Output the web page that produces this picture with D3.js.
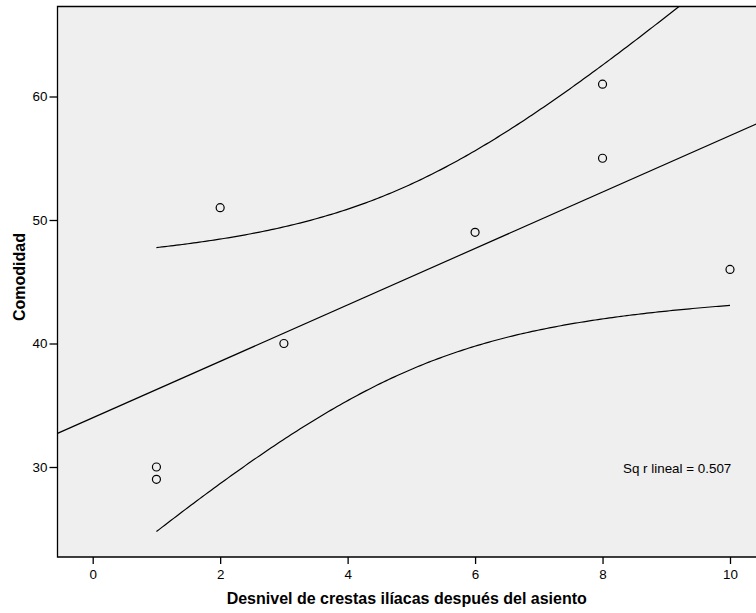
<!DOCTYPE html>
<html>
<head>
<meta charset="utf-8">
<script src="https://cdn.jsdelivr.net/npm/d3@7/dist/d3.min.js"></script>
<style>
  html, body { margin: 0; padding: 0; background: #ffffff; }
  svg { display: block; }
  text { font-family: "Liberation Sans", Arial, sans-serif; fill: #000; }
</style>
</head>
<body>
<svg id="chart" width="756" height="613"></svg>
<script>
// Observations: pelvic crest drop after sitting vs. comfort score
const desnivel = [1, 1, 2, 3, 6, 8, 8, 10];
const comodidad = [30, 29, 51, 40, 49, 61, 55, 46];
const xTicks = [0, 2, 4, 6, 8, 10];
const yTicks = [30, 40, 50, 60];
const xTitle = "Desnivel de crestas ilíacas después del asiento";
const yTitle = "Comodidad";

const W = 756, H = 613;
const plot = { left: 57.5, top: 6.5, right: 760, bottom: 557 };

const x = d3.scaleLinear().domain([0, 10]).range([92.7, 730]);
const y = d3.scaleLinear().domain([30, 60]).range([467, 96.5]);

const svg = d3.select("#chart");

svg.append("defs").append("clipPath").attr("id", "plotclip")
  .append("rect")
  .attr("x", plot.left).attr("y", plot.top)
  .attr("width", plot.right - plot.left).attr("height", plot.bottom - plot.top);

// plot background
svg.append("rect")
  .attr("x", plot.left).attr("y", plot.top)
  .attr("width", plot.right - plot.left).attr("height", plot.bottom - plot.top)
  .attr("fill", "#efefef");

// least-squares fit and 95% confidence band for the mean
const n = desnivel.length;
const mx = d3.mean(desnivel), my = d3.mean(comodidad);
let sxx = 0, sxy = 0, syy = 0;
for (let i = 0; i < n; i++) {
  sxx += (desnivel[i] - mx) ** 2;
  sxy += (desnivel[i] - mx) * (comodidad[i] - my);
  syy += (comodidad[i] - my) ** 2;
}
const slope = sxy / sxx;
const intercept = my - slope * mx;
const r2 = (sxy * sxy) / (sxx * syy);
const sse = syy - slope * sxy;
const s = Math.sqrt(sse / (n - 2));
const tCrit = 2.4469; // t(0.975, df = 6)
const fit = v => intercept + slope * v;
const half = v => tCrit * s * Math.sqrt(1 / n + (v - mx) ** 2 / sxx);

const g = svg.append("g").attr("clip-path", "url(#plotclip)");

const xMinData = d3.min(desnivel), xMaxData = d3.max(desnivel);
const bandX = d3.range(0, 201).map(i => xMinData + (xMaxData - xMinData) * i / 200);
const line = d3.line().x(d => x(d[0])).y(d => y(d[1]));

const xDom = [x.invert(plot.left), x.invert(plot.right)];
g.append("path")
  .attr("d", line(xDom.map(v => [v, fit(v)])))
  .attr("fill", "none").attr("stroke", "#000").attr("stroke-width", 1.2);

g.append("path")
  .attr("d", line(bandX.map(v => [v, fit(v) + half(v)])))
  .attr("fill", "none").attr("stroke", "#000").attr("stroke-width", 1.2);
g.append("path")
  .attr("d", line(bandX.map(v => [v, fit(v) - half(v)])))
  .attr("fill", "none").attr("stroke", "#000").attr("stroke-width", 1.2);

// data points
g.selectAll("circle.pt").data(desnivel.map((d, i) => [d, comodidad[i]]))
  .enter().append("circle")
  .attr("class", "pt")
  .attr("cx", d => x(d[0])).attr("cy", d => y(d[1]))
  .attr("r", 4)
  .attr("fill", "none").attr("stroke", "#000").attr("stroke-width", 1.2);

// R² annotation
svg.append("text")
  .attr("x", 623).attr("y", 473)
  .style("font-size", "13.4px")
  .text("Sq r lineal = " + r2.toFixed(3));

// frame (left, top, bottom)
svg.append("path")
  .attr("d", `M${W + 2},${plot.top}H${plot.left}V${plot.bottom}H${W + 2}`)
  .attr("fill", "none").attr("stroke", "#000").attr("stroke-width", 1.3);

// axes
const xAxis = d3.axisBottom(x).tickValues(xTicks).tickSize(7).tickPadding(5).tickFormat(d3.format("d"));
const yAxis = d3.axisLeft(y).tickValues(yTicks).tickSize(8).tickPadding(2).tickFormat(d3.format("d"));

const gx = svg.append("g").attr("transform", `translate(0,${plot.bottom})`).call(xAxis);
const gy = svg.append("g").attr("transform", `translate(${plot.left},0)`).call(yAxis);
[gx, gy].forEach(a => {
  a.attr("font-size", null).attr("font-family", null);
  a.select(".domain").remove();
  a.selectAll(".tick line").attr("stroke", "#000").attr("stroke-width", 1.3);
  a.selectAll(".tick text")
    .style("font-size", "13.4px")
    .style("font-family", "'Liberation Sans', Arial, sans-serif")
    .attr("fill", "#000");
});

// axis titles
svg.append("text")
  .attr("x", (plot.left + W) / 2).attr("y", 604)
  .attr("text-anchor", "middle")
  .style("font-size", "16px").attr("font-weight", "bold")
  .text(xTitle);

svg.append("text")
  .attr("transform", `translate(25,277) rotate(-90)`)
  .attr("text-anchor", "middle")
  .style("font-size", "16px").attr("font-weight", "bold")
  .text(yTitle);
</script>
</body>
</html>
